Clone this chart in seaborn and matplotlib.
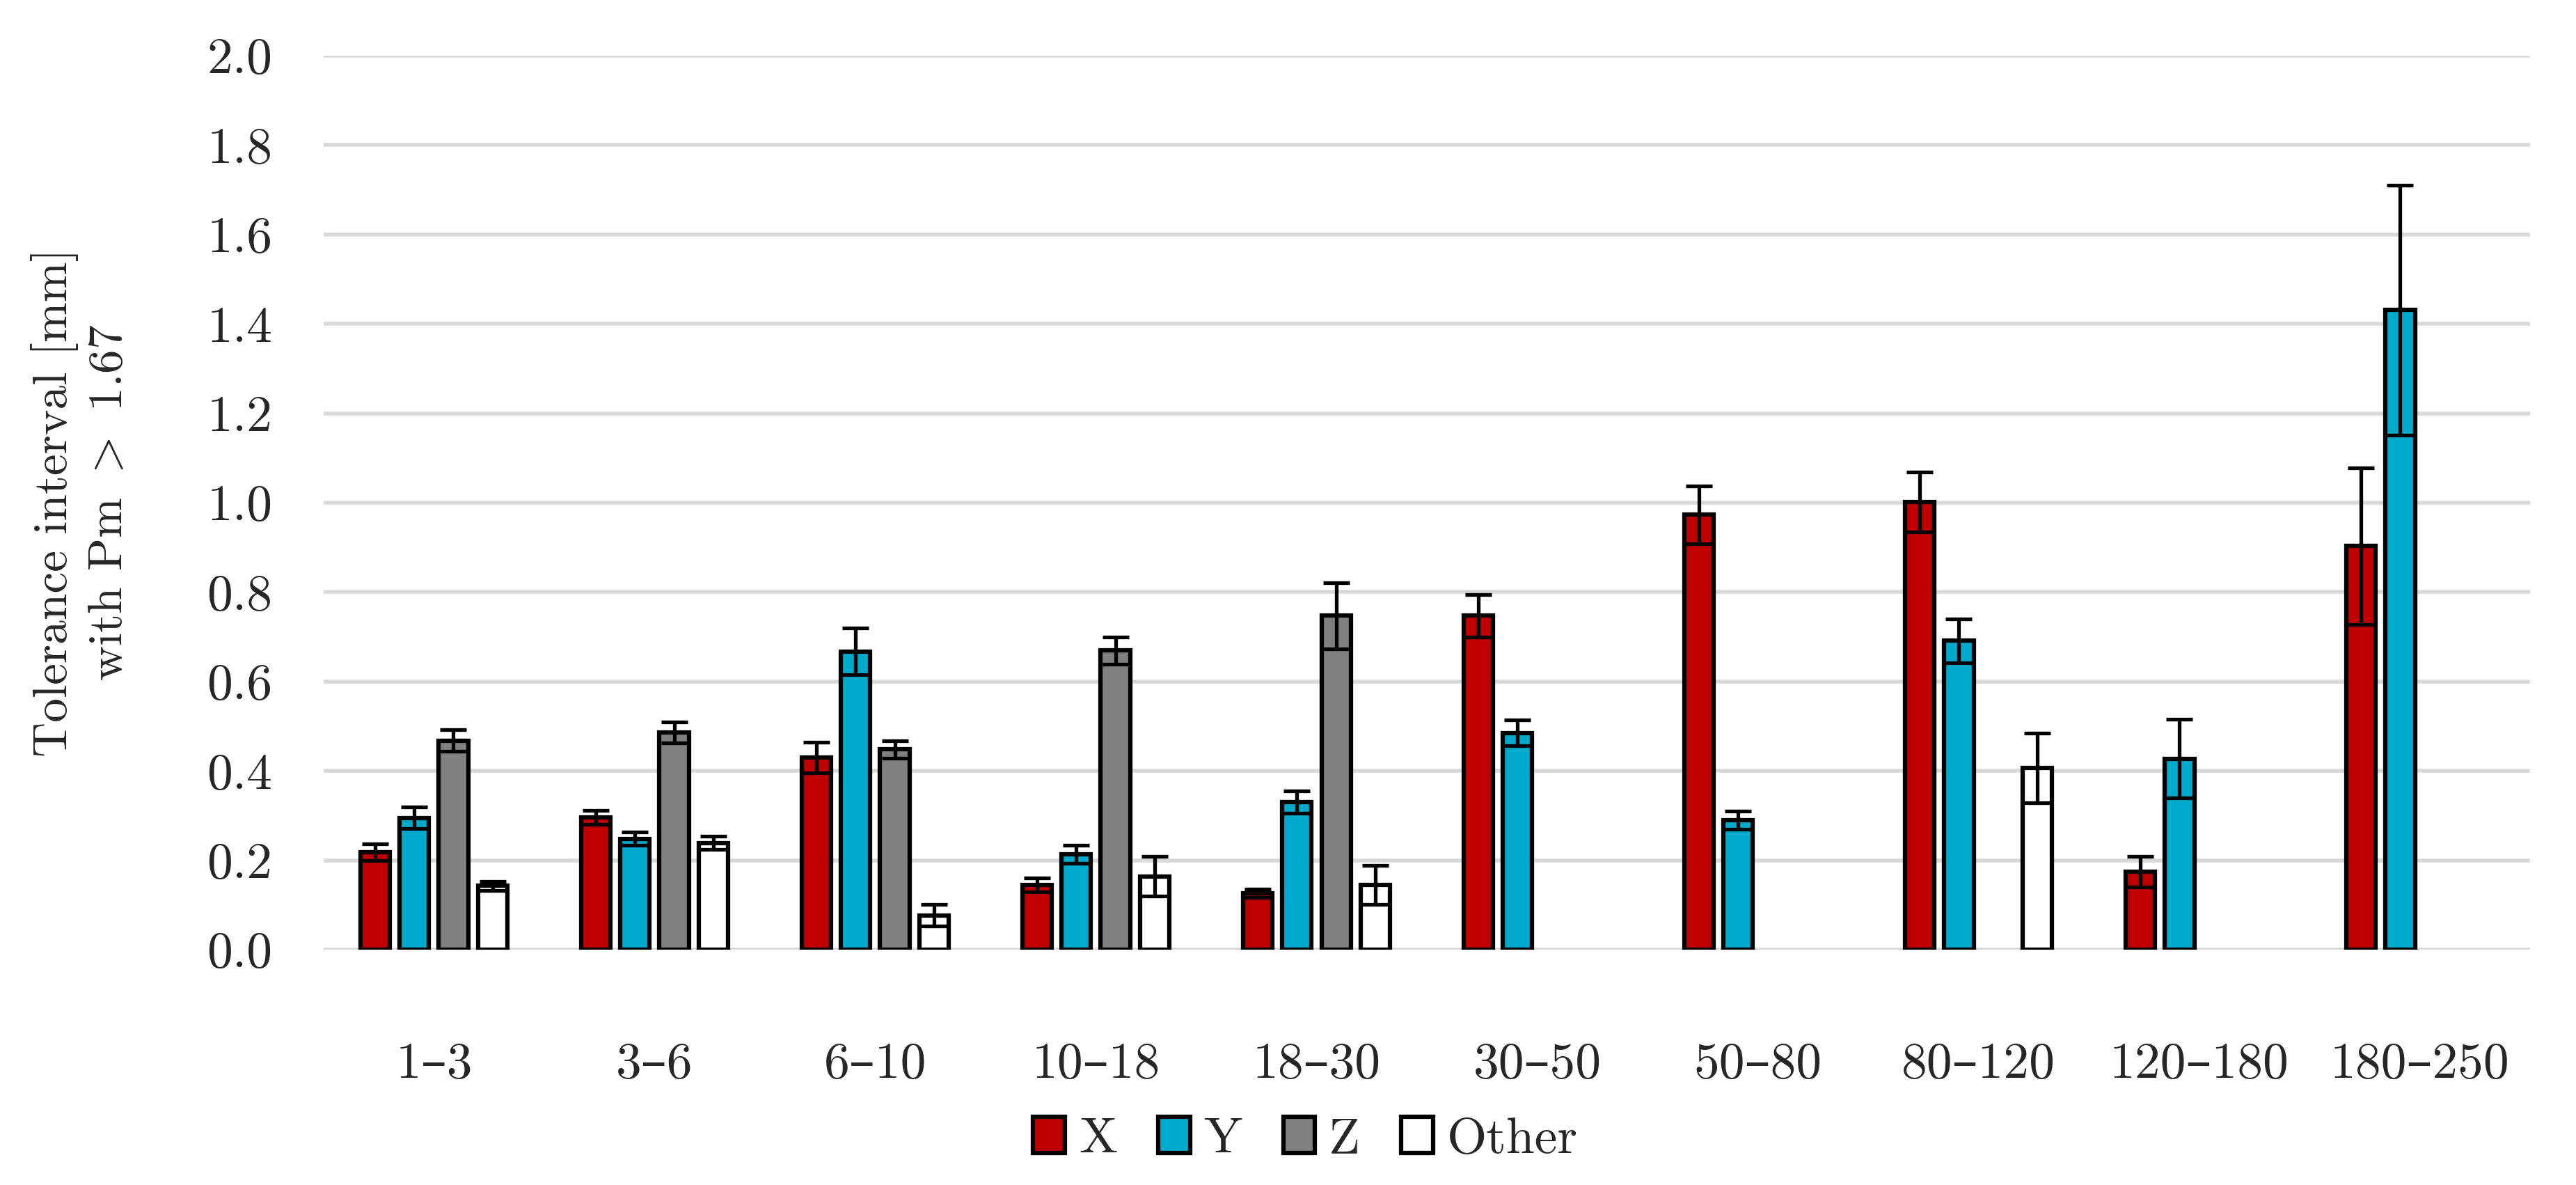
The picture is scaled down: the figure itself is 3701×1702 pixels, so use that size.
import numpy as np
import pandas as pd
import matplotlib
matplotlib.use("Agg")
import matplotlib.pyplot as plt
import seaborn as sns

# ---- data ----
categories = ['1–3', '3–6', '6–10', '10–18', '18–30', '30–50', '50–80', '80–120', '120–180', '180–250']
axis_names = ['X', 'Y', 'Z', 'Other']

x_vals = [0.218, 0.296, 0.430, 0.145, 0.126, 0.747, 0.973, 1.001, 0.174, 0.903]
y_vals = [0.295, 0.248, 0.667, 0.213, 0.330, 0.485, 0.290, 0.691, 0.427, 1.431]
z_vals = [0.468, 0.486, 0.448, 0.669, 0.747, np.nan, np.nan, np.nan, np.nan, np.nan]
other_vals = [0.143, 0.239, 0.077, 0.164, 0.145, np.nan, np.nan, 0.407, np.nan, np.nan]

x_err = [0.019, 0.015, 0.034, 0.015, 0.009, 0.048, 0.065, 0.067, 0.034, 0.175]
y_err = [0.024, 0.015, 0.052, 0.020, 0.025, 0.029, 0.020, 0.049, 0.088, 0.280]
z_err = [0.024, 0.023, 0.019, 0.030, 0.074, np.nan, np.nan, np.nan, np.nan, np.nan]
other_err = [0.010, 0.015, 0.024, 0.044, 0.044, np.nan, np.nan, 0.078, np.nan, np.nan]

colors = ['#C00000', '#00AACC', '#808080', '#FFFFFF']

values = {'X': x_vals, 'Y': y_vals, 'Z': z_vals, 'Other': other_vals}
errors = {'X': x_err, 'Y': y_err, 'Z': z_err, 'Other': other_err}

rows = []
for name in axis_names:
    for cat, v, e in zip(categories, values[name], errors[name]):
        rows.append({'range': cat, 'axis': name, 'value': v, 'err': e})
df = pd.DataFrame(rows).dropna()

# ---- style ----
sns.set_theme(style="white")
plt.rcParams['font.family'] = ['cmr10', 'DejaVu Serif']
plt.rcParams['mathtext.fontset'] = 'cm'
plt.rcParams['axes.formatter.use_mathtext'] = True
FS = 53

fig = plt.figure(figsize=(37.01, 17.02), dpi=100)
ax = fig.add_axes([0.1256, 0.1986, 0.8566, 0.7544])

sns.barplot(data=df, x='range', y='value', hue='axis', order=categories,
            hue_order=axis_names, palette=colors, saturation=1, width=0.71, gap=0.25,
            edgecolor='black', linewidth=4.5, errorbar=None, ax=ax)

# custom error bars at the seaborn bar positions
bar_containers = list(ax.containers)
for h, cont in enumerate(bar_containers):
    name = axis_names[h]
    xs, hs, es = [], [], []
    for bar in cont:
        hgt = bar.get_height()
        if np.isnan(hgt):
            continue
        xc = bar.get_x() + bar.get_width() / 2
        ci = int(round(xc))
        xs.append(xc)
        hs.append(hgt)
        es.append(errors[name][ci])
    ax.errorbar(xs, hs, yerr=es, fmt='none', ecolor='black',
                elinewidth=3.8, capsize=14, capthick=3.8, zorder=5)

ax.set_ylim(0, 2.0)
ax.set_xlim(-0.5, 9.5)
ax.set_yticks(np.arange(0, 2.01, 0.2))
ax.set_yticklabels([f'{t:.1f}' for t in np.arange(0, 2.01, 0.2)])
ax.yaxis.grid(True, color='#d9d9d9', linewidth=4)
ax.set_axisbelow(True)
sns.despine(ax=ax, left=True, bottom=True)
ax.tick_params(axis='y', length=0, labelsize=FS, pad=53)
ax.tick_params(axis='x', length=0, labelsize=FS, pad=96)

ax.set_xlabel('')
ax.set_ylabel('Tolerance interval [mm]\nwith Pm $>$ 1.67', fontsize=50,
              labelpad=78, linespacing=1.3)

sns.move_legend(ax, 'center', bbox_to_anchor=(0.445, -0.2126), ncol=4,
                frameon=False, title=None, fontsize=FS, handlelength=0.62,
                handleheight=0.7, handletextpad=0.27, columnspacing=0.8)
for p in ax.get_legend().get_patches():
    p.set_edgecolor('black')
    p.set_linewidth(4.5)

fig.savefig('out.png', dpi=100)
